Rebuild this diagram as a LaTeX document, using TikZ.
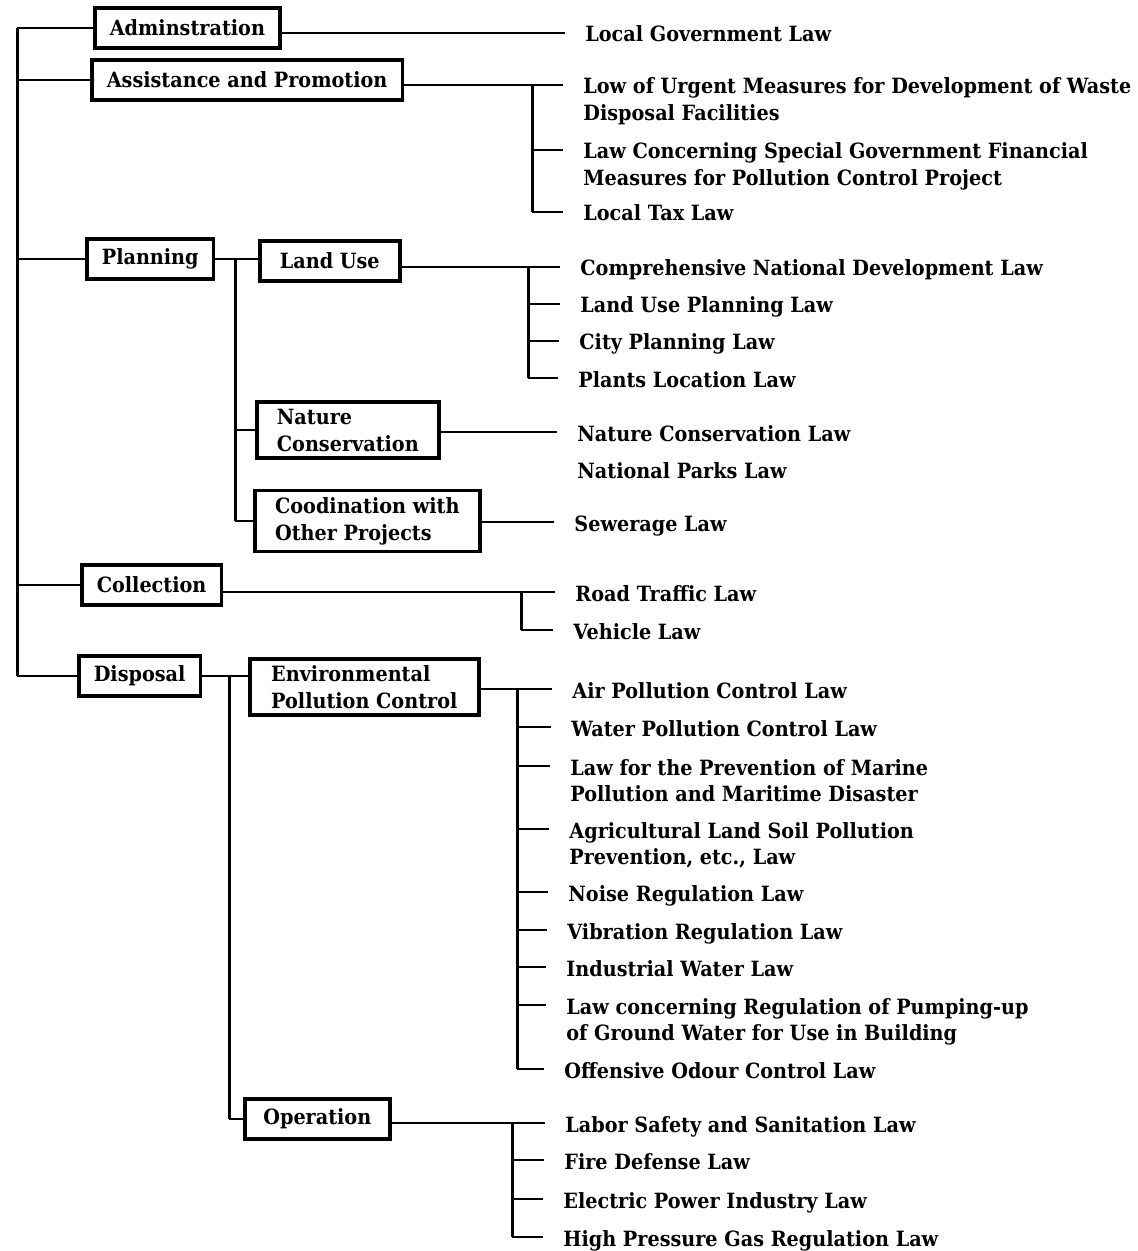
\documentclass[tikz,border=0pt]{standalone}
\usepackage{fontspec}
\setmainfont{DejaVu Serif}[FakeStretch=0.915]
\begin{document}
\begin{tikzpicture}[x=0.5pt, y=-0.5pt,
  box/.style={draw, line width=1.8pt, anchor=west, inner xsep=7.5pt, minimum height=20pt, align=left, font=\bfseries\fontsize{10.5}{13.5}\selectfont},
  law/.style={anchor=west, inner xsep=10pt, inner ysep=0.5pt, text height=10.5pt, text depth=1.5pt, font=\bfseries\fontsize{10.5}{13}\selectfont},
  lawsub/.style={law, anchor=north west},
  link/.style={line width=0.9pt},
  bar/.style={line width=1.5pt}]
  \useasboundingbox (0,0) rectangle (1138,1251);

  % boxes
  \node[box] (admin) at (93, 28) {Adminstration};
  \node[box] (assist) at (90, 80) {Assistance and Promotion};
  \node[box] (plan) at (85, 259) {Planning};
  \node[box, minimum width=70pt] (landuse) at (258, 261) {Land Use};
  \node[box, minimum width=91pt] (nature) at (255, 430) {Nature\\Conservation};
  \node[box, minimum width=112.5pt] (coord) at (253, 521) {Coodination with\\Other Projects};
  \node[box] (collect) at (80, 585) {Collection};
  \node[box] (disposal) at (77, 676) {Disposal};
  \node[box, minimum width=114.5pt] (env) at (248, 687) {Environmental\\Pollution Control};
  \node[box, minimum width=72.5pt] (oper) at (243, 1119) {Operation};

  % laws
  \node[law] (lgov) at (565, 33) {Local Government Law};
  \node[law] (lurgent) at (563, 85) {Low of Urgent Measures for Development of Waste};
  \node[lawsub] (lurgent2) at (lurgent.south west) {Disposal Facilities};
  \node[law] (lfin) at (563, 150) {Law Concerning Special Government Financial};
  \node[lawsub] (lfin2) at (lfin.south west) {Measures for Pollution Control Project};
  \node[law] (ltax) at (563, 212) {Local Tax Law};
  \node[law] (lcomp) at (560, 267) {Comprehensive National Development Law};
  \node[law] (lluse) at (560, 304) {Land Use Planning Law};
  \node[law] (lcity) at (559, 341) {City Planning Law};
  \node[law] (lplant) at (558, 378) {Plants Location Law};
  \node[law] (lnat) at (557, 432) {Nature Conservation Law};
  \node[law] (lpark) at (557, 469) {National Parks Law};
  \node[law] (lsew) at (554, 522) {Sewerage Law};
  \node[law] (lroad) at (555, 592) {Road Traffic Law};
  \node[law] (lveh) at (553, 630) {Vehicle Law};
  \node[law] (lair) at (552, 689) {Air Pollution Control Law};
  \node[law] (lwater) at (551, 727) {Water Pollution Control Law};
  \node[law] (lmarine) at (550, 766) {Law for the Prevention of Marine};
  \node[lawsub] (lmarine2) at (lmarine.south west) {Pollution and Maritime Disaster};
  \node[law] (lagri) at (549, 829) {Agricultural Land Soil Pollution};
  \node[lawsub] (lagri2) at (lagri.south west) {Prevention, etc., Law};
  \node[law] (lnoise) at (548, 892) {Noise Regulation Law};
  \node[law] (lvib) at (547, 930) {Vibration Regulation Law};
  \node[law] (lind) at (546, 967) {Industrial Water Law};
  \node[law] (lpump) at (546, 1005) {Law concerning Regulation of Pumping-up};
  \node[lawsub] (lpump2) at (lpump.south west) {of Ground Water for Use in Building};
  \node[law] (lodour) at (544, 1069) {Offensive Odour Control Law};
  \node[law] (llabor) at (545, 1123) {Labor Safety and Sanitation Law};
  \node[law] (lfire) at (544, 1160) {Fire Defense Law};
  \node[law] (lelec) at (543, 1199) {Electric Power Industry Law};
  \node[law] (lgas) at (543, 1237) {High Pressure Gas Regulation Law};

  % junctions
  \coordinate (root) at (17, 676);
  \coordinate (ja) at (532, 0);
  \coordinate (jp) at (235, 0);
  \coordinate (jl) at (528, 0);
  \coordinate (jc) at (521, 0);
  \coordinate (jd) at (229, 0);
  \coordinate (je) at (517, 0);
  \coordinate (jo) at (512, 0);

  % trunk
  \draw[bar] (admin.west -| root) -- (root);
  \foreach \b in {admin, assist, plan, collect, disposal}
    \draw[link] (\b.west -| root) -- (\b.west);

  \draw[link] (admin.east |- lgov.west) -- (lgov.west);

  \draw[link] (assist.east |- lurgent.west) -- (lurgent.west);
  \draw[bar] (ja |- lurgent.west) -- (ja |- ltax.west);
  \foreach \l in {lfin, ltax}
    \draw[link] (ja |- \l.west) -- (\l.west);

  \draw[link] (plan.east) -- (plan.east -| landuse.west);
  \draw[bar] (jp |- plan.east) -- (jp |- coord.west);
  \foreach \b in {nature, coord}
    \draw[link] (jp |- \b.west) -- (\b.west);

  \draw[link] (landuse.east |- lcomp.west) -- (lcomp.west);
  \draw[bar] (jl |- lcomp.west) -- (jl |- lplant.west);
  \foreach \l in {lluse, lcity, lplant}
    \draw[link] (jl |- \l.west) -- (\l.west);

  \draw[link] (nature.east |- lnat.west) -- (lnat.west);
  \draw[link] (coord.east |- lsew.west) -- (lsew.west);

  \draw[link] (collect.east |- lroad.west) -- (lroad.west);
  \draw[bar] (jc |- lroad.west) -- (jc |- lveh.west);
  \draw[link] (jc |- lveh.west) -- (lveh.west);

  \draw[link] (disposal.east) -- (disposal.east -| env.west);
  \draw[bar] (jd |- disposal.east) -- (jd |- oper.west);
  \draw[link] (jd |- oper.west) -- (oper.west);

  \draw[link] (env.east |- lair.west) -- (lair.west);
  \draw[bar] (je |- lair.west) -- (je |- lodour.west);
  \foreach \l in {lwater, lmarine, lagri, lnoise, lvib, lind, lpump, lodour}
    \draw[link] (je |- \l.west) -- (\l.west);

  \draw[link] (oper.east |- llabor.west) -- (llabor.west);
  \draw[bar] (jo |- llabor.west) -- (jo |- lgas.west);
  \foreach \l in {lfire, lelec, lgas}
    \draw[link] (jo |- \l.west) -- (\l.west);
\end{tikzpicture}
\end{document}
